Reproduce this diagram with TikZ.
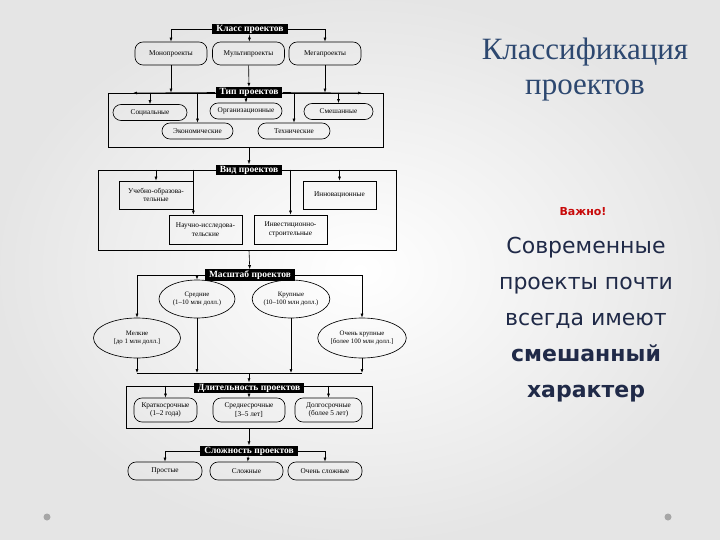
\documentclass[tikz,border=0pt]{standalone}
\usepackage{fontspec}
\setmainfont{Liberation Serif}
\newfontfamily\slidesans{DejaVu Sans}
\usepackage{xcolor}
\usetikzlibrary{arrows.meta, positioning, shapes.geometric}

\definecolor{titleblue}{RGB}{45,72,112}
\definecolor{textnavy}{RGB}{32,42,72}
\definecolor{alertred}{RGB}{200,10,10}

\tikzset{
  lbl/.style={fill=black, text=white, font=\fontsize{9.5}{10}\selectfont\bfseries, inner xsep=4pt, inner ysep=1.3pt},
  rbox/.style={draw, line width=0.65pt, rounded corners=8pt, minimum width=72pt, font=\fontsize{7.3}{8.3}\selectfont, align=center, inner sep=1pt},
  sbox/.style={draw, line width=0.65pt, minimum width=74pt, minimum height=28pt, font=\fontsize{7.3}{8.3}\selectfont, align=center, inner sep=1pt},
  ebox/.style={draw, ellipse, line width=0.65pt, inner sep=0pt, font=\fontsize{6.8}{7.8}\selectfont, align=center},
  frm/.style={draw, line width=0.8pt, inner sep=0pt},
  arr/.style={-{Latex[length=4pt,width=3pt]}, line width=0.6pt},
  bus/.style={line width=0.6pt}
}

\begin{document}
\begin{tikzpicture}[x=1pt, y=-1pt]
  \useasboundingbox (0,0) rectangle (720,540);
  \shade[inner color=white, outer color=black!10] (0,0) rectangle (720,540);

  % frames
  \node[frm, minimum width=275pt, minimum height=54pt] (tipfrm) at (245.5,120) {};
  \node[frm, minimum width=298pt, minimum height=80pt] (vidfrm) at (247,210) {};
  \node[frm, minimum width=246pt, minimum height=42pt] (dlitfrm) at (249,407) {};

  % class
  \node[lbl] (klass) at (250,29) {Класс проектов};
  \node[rbox, minimum height=23pt] (mono) at (171,53.5) {Монопроекты};
  \node[rbox, minimum height=23pt] (multi) at (248.5,53.5) {Мультипроекты};
  \node[rbox, minimum height=23pt] (mega) at (325,53.5) {Мегапроекты};
  \draw[arr] (klass) -| (mono);
  \draw[arr] (klass) -- (multi);
  \draw[arr] (klass) -| (mega);

  % type
  \node[lbl] (tip) at (249,92.5) {Тип проектов};
  \coordinate (tipL) at (133,93);
  \coordinate (tipR) at (362,93);
  \node[rbox, minimum height=16pt, minimum width=74pt] (soc) at (150,112.5) {Социальные};
  \node[rbox, minimum height=16pt] (org) at (246,111) {Организационные};
  \node[rbox, minimum height=16pt, minimum width=69pt] (smesh) at (338.5,111.5) {Смешанные};
  \node[rbox, minimum height=16pt, minimum width=71pt] (ekon) at (197.5,131) {Экономические};
  \node[rbox, minimum height=16pt] (tehn) at (294,131) {Технические};
  \draw[arr] (mono) -- (mono |- tipfrm.north);
  \draw[arr] (multi) -- (tip);
  \draw[arr] (mega) -- (mega |- tipfrm.north);
  \draw[arr] (tip.west) -- (tipL);
  \draw[arr] (tip.east) -- (tipR);
  \draw[arr] (soc |- tipfrm.north) -- (soc);
  \draw[arr] (org |- tip.south) -- (org);
  \draw[arr] (smesh |- tipfrm.north) -- (smesh);
  \draw[arr] (ekon |- tipfrm.north) -- (ekon);
  \draw[arr] (tehn |- tipfrm.north) -- (tehn);

  % kind
  \node[lbl] (vid) at (249,170) {Вид проектов};
  \node[sbox] (ucheb) at (156,195) {Учебно-образова-\\тельные};
  \node[sbox, minimum width=73pt] (innov) at (339.5,195) {Инновационные};
  \node[sbox, minimum width=73pt, minimum height=29pt] (nauch) at (205.5,229.5) {Научно-исследова-\\тельские};
  \node[sbox, minimum width=73pt, minimum height=29pt] (invest) at (290.5,229.5) {Инвестиционно-\\строительные};
  \draw[arr] (tip |- tipfrm.south) -- (vid);
  \draw[arr] (ucheb |- vidfrm.north) -- (ucheb);
  \draw[arr] (ucheb.east |- vidfrm.north) -- (ucheb.east |- nauch.north);
  \draw[arr] (invest |- vidfrm.north) -- (invest);
  \draw[arr] (innov |- vidfrm.north) -- (innov);

  % scale
  \node[lbl] (mas) at (250,275) {Масштаб проектов};
  \node[ebox, minimum width=76pt, minimum height=38pt] (sred) at (197,299) {Средние\\(1–10 млн долл.)};
  \node[ebox, minimum width=76pt, minimum height=38pt] (krup) at (291,299) {Крупные\\(10–100 млн долл.)};
  \node[ebox, minimum width=87pt, minimum height=40pt] (melk) at (137,338) {Мелкие\\{[}до 1 млн долл.{]}};
  \node[ebox, minimum width=88pt, minimum height=40pt] (ochkr) at (362,338) {Очень крупные\\{[}более 100 млн долл.{]}};
  \coordinate (busD) at (249,373);
  \draw[arr] (vid |- vidfrm.south) -- (mas);
  \draw[arr] (mas) -| (melk);
  \draw[arr] (mas) -| (ochkr);
  \draw[arr] (mas.west -| sred) -- (sred);
  \draw[arr] (mas.east -| krup) -- (krup);
  \draw[arr] (melk) -- (melk |- busD);
  \draw[arr] (sred) -- (sred |- busD);
  \draw[arr] (krup) -- (krup |- busD);
  \draw[arr] (ochkr) -- (ochkr |- busD);
  \draw[bus] (melk |- busD) -- (ochkr |- busD);

  % duration
  \node[lbl] (dlit) at (249,388) {Длительность проектов};
  \node[rbox, minimum height=24pt, minimum width=63pt] (krat) at (165.5,410) {Краткосрочные\\(1–2 года)};
  \node[rbox, minimum height=24pt] (srsr) at (249,410) {Среднесрочные\\{[}3–5 лет{]}};
  \node[rbox, minimum height=24pt, minimum width=67pt] (dolg) at (328.5,410) {Долгосрочные\\(более 5 лет)};
  \draw[arr] (busD) -- (dlit);
  \draw[arr] (krat |- dlitfrm.north) -- (krat);
  \draw[arr] (dlit) -- (srsr);
  \draw[arr] (dolg |- dlitfrm.north) -- (dolg);

  % complexity
  \node[lbl] (slozh) at (249,451) {Сложность проектов};
  \node[rbox, minimum height=18pt, minimum width=74pt] (prost) at (165,471) {Простые};
  \node[rbox, minimum height=18pt, minimum width=73pt] (slozhn) at (246.5,471) {Сложные};
  \node[rbox, minimum height=18pt, minimum width=74pt] (ochsl) at (325,471) {Очень сложные};
  \draw[arr] (dlit |- dlitfrm.south) -- (slozh);
  \draw[arr] (slozh) -| (prost);
  \draw[arr] (slozh) -- (slozhn);
  \draw[arr] (slozh) -| (ochsl);

  % right side text
  \node[font=\fontsize{31}{35}\selectfont, text=titleblue, align=center] (title) at (585,70) {Классификация\\проектов};
  \node[font=\slidesans\bfseries\fontsize{11}{13}\selectfont, text=alertred] (vazhno) at (583,212) {Важно!};
  \node[font=\slidesans\fontsize{22}{36}\selectfont, text=textnavy, align=center] (body) at (586,320)
    {Современные\\проекты почти\\всегда имеют\\\textbf{смешанный}\\\textbf{характер}};

  % slide dots
  \fill[black!35] (47,517) circle (3.5);
  \fill[black!35] (668,517) circle (3.5);
\end{tikzpicture}
\end{document}
